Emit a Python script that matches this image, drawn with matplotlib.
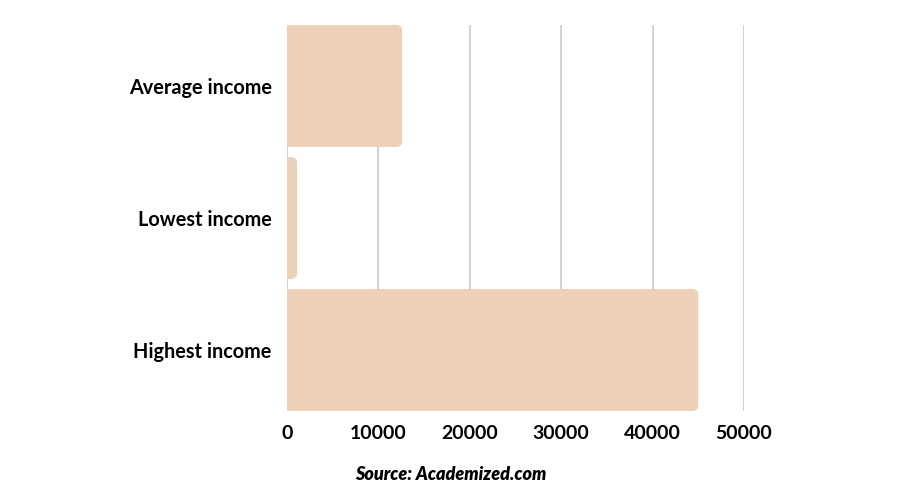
import matplotlib.pyplot as plt
from matplotlib.patches import FancyBboxPatch

categories = ['Average income', 'Lowest income', 'Highest income']
values = [12600, 1100, 45000]
xticks = [0, 10000, 20000, 30000, 40000, 50000]

BAR_COLOR = '#ecd0b8'
GRID_COLOR = '#c9c9c9'

fig = plt.figure(figsize=[9.06, 4.97], dpi=100)
W, H = 906, 497
# axes box in pixels: x 287..744, y 25..411
ax = fig.add_axes([287 / W, 1 - 411 / H, (744 - 287) / W, (411 - 25) / H])

xmax = 50000
bar_h = 0.924
ax.set_xlim(0, xmax)
ax.set_ylim(len(categories) - 1 + bar_h / 2, -bar_h / 2)

# data units per pixel, for rounded corners
px_x = xmax / (744 - 287)
px_y = (len(categories) - 1 + bar_h) / (411 - 25)
radius = 6 * px_x

for i, v in enumerate(values):
    patch = FancyBboxPatch((-radius, i - bar_h / 2), v + radius, bar_h,
                           boxstyle='round,pad=0,rounding_size=%f' % radius,
                           mutation_aspect=px_y / px_x,
                           facecolor=BAR_COLOR, edgecolor='none', zorder=2)
    ax.add_patch(patch)

ax.set_xticks(xticks)
ax.set_xticklabels([str(t) for t in xticks], fontsize=14, family='Lato',
                   fontweight='bold')
ax.set_yticks(range(len(categories)))
ax.set_yticklabels(categories, fontsize=14.3, family='Lato', fontweight='bold',
                   va='bottom')
for lbl in ax.get_yticklabels():
    lbl.set_va('center_baseline')
ax.tick_params(axis='both', length=0)
ax.tick_params(axis='y', pad=11)
ax.tick_params(axis='x', pad=10)

ax.grid(axis='x', color=GRID_COLOR, linewidth=1.2, zorder=0)
ax.set_axisbelow(True)
for s in ax.spines.values():
    s.set_visible(False)

fig.text(451 / W, 1 - 475 / H, 'Source: Academized.com', ha='center',
         va='center', fontsize=13, family='Lato', fontweight='heavy',
         style='italic')

fig.savefig('out.png', dpi=100)
